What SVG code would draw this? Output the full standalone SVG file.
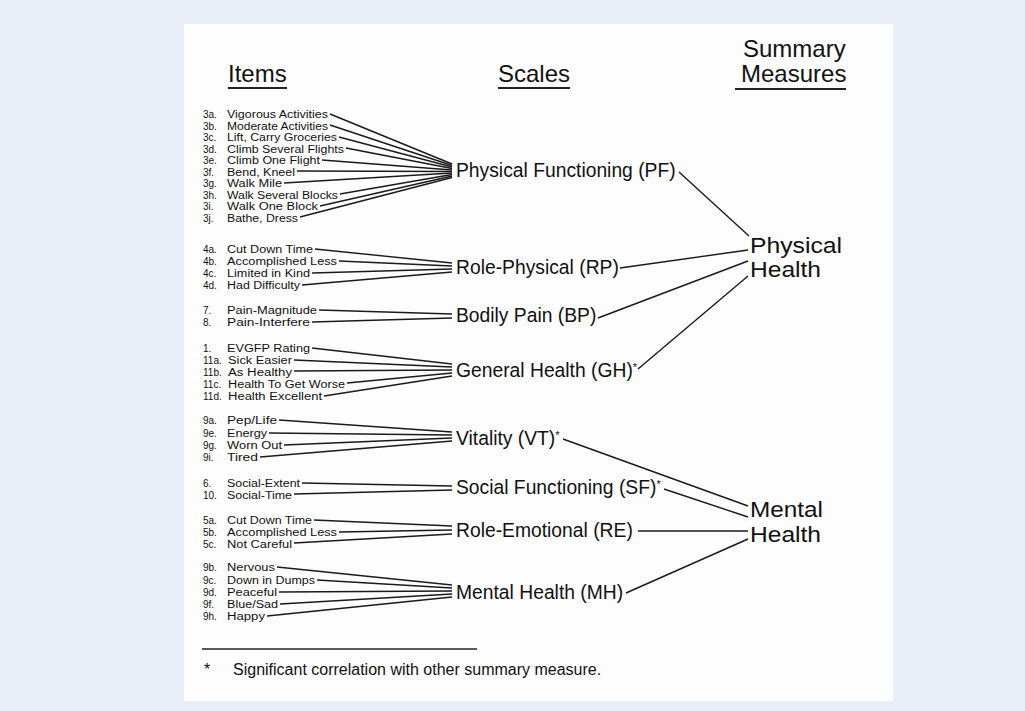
<svg xmlns="http://www.w3.org/2000/svg" width="1025" height="711" viewBox="0 0 1025 711">
<style>
.hd{font-family:"Liberation Sans",Arial,sans-serif;font-size:24px;fill:#111}
.it text{font-family:"Liberation Sans",Arial,sans-serif;font-size:10px;fill:#111}
.sc{font-family:"Liberation Sans",Arial,sans-serif;font-size:19.3px;fill:#111}
.sm{font-family:"Liberation Sans",Arial,sans-serif;font-size:21.3px;fill:#111}
.ft{font-family:"Liberation Sans",Arial,sans-serif;font-size:16px;fill:#111}
.ul{stroke:#222;stroke-width:2}
.cn line{stroke:#1a1a1a;stroke-width:1.4;fill:none}
</style>
<rect x="0" y="0" width="1025" height="711" fill="#e9eef8"/>
<rect x="184" y="24" width="709" height="677" fill="#fdfdfd"/>
<g id="headers">
<text class="hd" x="228" y="82">Items</text>
<line class="ul" x1="228" y1="88" x2="287" y2="88"/>
<text class="hd" x="498" y="82">Scales</text>
<line class="ul" x1="498" y1="88" x2="570" y2="88"/>
<text class="hd" x="743" y="57">Summary</text>
<text class="hd" x="741" y="82">Measures</text>
<line class="ul" x1="735" y1="89" x2="846" y2="89"/>
</g>
<g id="connectors" class="cn">
<line x1="330" y1="114" x2="452" y2="164"/>
<line x1="330" y1="125" x2="452" y2="165.5"/>
<line x1="339" y1="137" x2="452" y2="167"/>
<line x1="346" y1="148" x2="452" y2="168.5"/>
<line x1="322" y1="160" x2="452" y2="170"/>
<line x1="297" y1="171" x2="452" y2="171.5"/>
<line x1="284" y1="183" x2="452" y2="173"/>
<line x1="340" y1="194" x2="452" y2="174.5"/>
<line x1="320" y1="206" x2="452" y2="176"/>
<line x1="300" y1="217" x2="452" y2="177.5"/>
<line x1="315" y1="249" x2="452" y2="263"/>
<line x1="339" y1="261" x2="452" y2="266"/>
<line x1="312" y1="273" x2="452" y2="269"/>
<line x1="302" y1="285" x2="452" y2="272"/>
<line x1="319" y1="310" x2="452" y2="314"/>
<line x1="312" y1="322" x2="452" y2="318"/>
<line x1="312" y1="348" x2="452" y2="364"/>
<line x1="294" y1="360" x2="452" y2="367"/>
<line x1="294" y1="371" x2="452" y2="370"/>
<line x1="347" y1="383" x2="452" y2="373"/>
<line x1="324" y1="396" x2="452" y2="376"/>
<line x1="279" y1="420" x2="452" y2="432"/>
<line x1="269" y1="433" x2="452" y2="435"/>
<line x1="284" y1="445" x2="452" y2="438"/>
<line x1="260" y1="457" x2="452" y2="441"/>
<line x1="302" y1="483" x2="452" y2="486"/>
<line x1="294" y1="494" x2="452" y2="490"/>
<line x1="314" y1="520" x2="452" y2="526"/>
<line x1="339" y1="532" x2="452" y2="530"/>
<line x1="294" y1="543" x2="452" y2="534"/>
<line x1="277" y1="567" x2="452" y2="585"/>
<line x1="317" y1="580" x2="452" y2="588"/>
<line x1="279" y1="592" x2="452" y2="591"/>
<line x1="280" y1="604" x2="452" y2="594"/>
<line x1="267" y1="616" x2="452" y2="597"/>
<line x1="679" y1="172" x2="749" y2="236"/>
<line x1="620" y1="268" x2="748" y2="250"/>
<line x1="598" y1="318" x2="748" y2="261"/>
<line x1="638" y1="369" x2="748" y2="276"/>
<line x1="563" y1="439" x2="748" y2="506"/>
<line x1="664" y1="489" x2="748" y2="517"/>
<line x1="638" y1="531" x2="748" y2="531"/>
<line x1="626" y1="593" x2="748" y2="539"/>
</g>
<g id="items" class="it">
<g id="i3a"><text x="203" y="118">3a.</text><text x="227" y="118" textLength="101" lengthAdjust="spacingAndGlyphs">Vigorous Activities</text></g>
<g id="i3b"><text x="203" y="129.5">3b.</text><text x="227" y="129.5" textLength="101" lengthAdjust="spacingAndGlyphs">Moderate Activities</text></g>
<g id="i3c"><text x="203" y="141">3c.</text><text x="227" y="141" textLength="110" lengthAdjust="spacingAndGlyphs">Lift, Carry Groceries</text></g>
<g id="i3d"><text x="203" y="152.5">3d.</text><text x="227" y="152.5" textLength="117" lengthAdjust="spacingAndGlyphs">Climb Several Flights</text></g>
<g id="i3e"><text x="203" y="164">3e.</text><text x="227" y="164" textLength="93" lengthAdjust="spacingAndGlyphs">Climb One Flight</text></g>
<g id="i3f"><text x="203" y="175.5">3f.</text><text x="227" y="175.5" textLength="68" lengthAdjust="spacingAndGlyphs">Bend, Kneel</text></g>
<g id="i3g"><text x="203" y="187">3g.</text><text x="227" y="187" textLength="55" lengthAdjust="spacingAndGlyphs">Walk Mile</text></g>
<g id="i3h"><text x="203" y="198.5">3h.</text><text x="227" y="198.5" textLength="111" lengthAdjust="spacingAndGlyphs">Walk Several Blocks</text></g>
<g id="i3i"><text x="203" y="210">3i.</text><text x="227" y="210" textLength="91" lengthAdjust="spacingAndGlyphs">Walk One Block</text></g>
<g id="i3j"><text x="203" y="221.5">3j.</text><text x="227" y="221.5" textLength="71" lengthAdjust="spacingAndGlyphs">Bathe, Dress</text></g>
<g id="i4a"><text x="203" y="253">4a.</text><text x="227" y="253" textLength="86" lengthAdjust="spacingAndGlyphs">Cut Down Time</text></g>
<g id="i4b"><text x="203" y="265">4b.</text><text x="227" y="265" textLength="110" lengthAdjust="spacingAndGlyphs">Accomplished Less</text></g>
<g id="i4c"><text x="203" y="277">4c.</text><text x="227" y="277" textLength="83" lengthAdjust="spacingAndGlyphs">Limited in Kind</text></g>
<g id="i4d"><text x="203" y="289">4d.</text><text x="227" y="289" textLength="73" lengthAdjust="spacingAndGlyphs">Had Difficulty</text></g>
<g id="i7"><text x="203" y="314">7.</text><text x="227" y="314" textLength="90" lengthAdjust="spacingAndGlyphs">Pain-Magnitude</text></g>
<g id="i8"><text x="203" y="326">8.</text><text x="227" y="326" textLength="83" lengthAdjust="spacingAndGlyphs">Pain-Interfere</text></g>
<g id="i1"><text x="203" y="352">1.</text><text x="227" y="352" textLength="83" lengthAdjust="spacingAndGlyphs">EVGFP Rating</text></g>
<g id="i11a"><text x="203" y="364">11a.</text><text x="228" y="364" textLength="64" lengthAdjust="spacingAndGlyphs">Sick Easier</text></g>
<g id="i11b"><text x="203" y="375.5">11b.</text><text x="228" y="375.5" textLength="64" lengthAdjust="spacingAndGlyphs">As Healthy</text></g>
<g id="i11c"><text x="203" y="387.5">11c.</text><text x="228" y="387.5" textLength="117" lengthAdjust="spacingAndGlyphs">Health To Get Worse</text></g>
<g id="i11d"><text x="203" y="400">11d.</text><text x="228" y="400" textLength="94" lengthAdjust="spacingAndGlyphs">Health Excellent</text></g>
<g id="i9a"><text x="203" y="424">9a.</text><text x="227" y="424" textLength="50" lengthAdjust="spacingAndGlyphs">Pep/Life</text></g>
<g id="i9e"><text x="203" y="437">9e.</text><text x="227" y="437" textLength="40" lengthAdjust="spacingAndGlyphs">Energy</text></g>
<g id="i9g"><text x="203" y="449">9g.</text><text x="227" y="449" textLength="55" lengthAdjust="spacingAndGlyphs">Worn Out</text></g>
<g id="i9i"><text x="203" y="461">9i.</text><text x="227" y="461" textLength="31" lengthAdjust="spacingAndGlyphs">Tired</text></g>
<g id="i6"><text x="203" y="487">6.</text><text x="227" y="487" textLength="73" lengthAdjust="spacingAndGlyphs">Social-Extent</text></g>
<g id="i10"><text x="203" y="498.5">10.</text><text x="227" y="498.5" textLength="65" lengthAdjust="spacingAndGlyphs">Social-Time</text></g>
<g id="i5a"><text x="203" y="524">5a.</text><text x="227" y="524" textLength="85" lengthAdjust="spacingAndGlyphs">Cut Down Time</text></g>
<g id="i5b"><text x="203" y="536">5b.</text><text x="227" y="536" textLength="110" lengthAdjust="spacingAndGlyphs">Accomplished Less</text></g>
<g id="i5c"><text x="203" y="547.5">5c.</text><text x="227" y="547.5" textLength="65" lengthAdjust="spacingAndGlyphs">Not Careful</text></g>
<g id="i9b"><text x="203" y="571">9b.</text><text x="227" y="571" textLength="48" lengthAdjust="spacingAndGlyphs">Nervous</text></g>
<g id="i9c"><text x="203" y="584">9c.</text><text x="227" y="584" textLength="88" lengthAdjust="spacingAndGlyphs">Down in Dumps</text></g>
<g id="i9d"><text x="203" y="596">9d.</text><text x="227" y="596" textLength="50" lengthAdjust="spacingAndGlyphs">Peaceful</text></g>
<g id="i9f"><text x="203" y="608">9f.</text><text x="227" y="608" textLength="51" lengthAdjust="spacingAndGlyphs">Blue/Sad</text></g>
<g id="i9h"><text x="203" y="620">9h.</text><text x="227" y="620" textLength="38" lengthAdjust="spacingAndGlyphs">Happy</text></g>
</g>
<g id="scales" class="sc">
<g id="PF"><text x="456" y="177">Physical Functioning (PF)</text></g>
<g id="RP"><text x="456" y="274">Role-Physical (RP)</text></g>
<g id="BP"><text x="456" y="322">Bodily Pain (BP)</text></g>
<g id="GH"><text x="456" y="377">General Health (GH)<tspan font-size="11" dy="-6">*</tspan></text></g>
<g id="VT"><text x="456" y="445">Vitality (VT)<tspan font-size="11" dy="-6">*</tspan></text></g>
<g id="SF"><text x="456" y="494">Social Functioning (SF)<tspan font-size="11" dy="-6">*</tspan></text></g>
<g id="RE"><text x="456" y="537">Role-Emotional (RE)</text></g>
<g id="MH"><text x="456" y="599">Mental Health (MH)</text></g>
</g>
<g id="PCS" class="sm"><text x="750" y="253" textLength="92" lengthAdjust="spacingAndGlyphs">Physical</text><text x="750" y="277" textLength="71" lengthAdjust="spacingAndGlyphs">Health</text></g>
<g id="MCS" class="sm"><text x="750" y="517" textLength="73" lengthAdjust="spacingAndGlyphs">Mental</text><text x="750" y="542" textLength="71" lengthAdjust="spacingAndGlyphs">Health</text></g>
<g id="footnote">
<line x1="202" y1="649" x2="477" y2="649" stroke="#222" stroke-width="1.6"/>
<text class="ft" x="204" y="675">*</text>
<text class="ft" x="233" y="675">Significant correlation with other summary measure.</text>
</g>
</svg>
